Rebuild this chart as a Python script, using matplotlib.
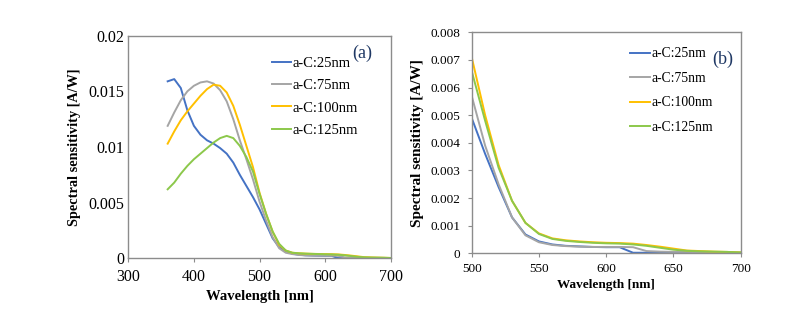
import matplotlib
matplotlib.use('Agg')
import matplotlib.pyplot as plt
import numpy as np

plt.rcParams['font.family'] = ['Liberation Serif', 'DejaVu Serif']

labels = ['a-C:25nm', 'a-C:75nm', 'a-C:100nm', 'a-C:125nm']
colors = ['#4472C4', '#A5A5A5', '#FFC000', '#8CC84B']

# panel (a): 360-700 nm
wl_a = list(range(360, 710, 10))
c25_a = [0.0159, 0.0161, 0.0153, 0.0133, 0.0119, 0.0111, 0.0106, 0.0103, 0.0099, 0.0094,
         0.0086, 0.0075, 0.0065, 0.0055, 0.0044, 0.0031, 0.0018, 0.0010, 0.0006, 0.00042,
         0.00032, 0.00027, 0.00025, 0.00023, 0.00022, 0.00022, 0.00002, 0.00002, 0.00002, 0.00002,
         0.00002, 0.00002, 0.00002, 0.00002, 0.00002]
c75_a = [0.0119, 0.0131, 0.0142, 0.0150, 0.0155, 0.0158, 0.0159, 0.0157, 0.0151, 0.0141,
         0.0125, 0.0106, 0.0089, 0.0071, 0.0051, 0.0034, 0.0019, 0.0009, 0.0005, 0.00038,
         0.0003, 0.00026, 0.00024, 0.00023, 0.00023, 0.00023, 0.00022, 0.00008, 0.00006, 0.00005,
         0.00005, 0.00004, 0.00004, 0.00003, 0.00002]
c100_a = [0.0103, 0.0114, 0.0124, 0.0132, 0.0139, 0.0146, 0.0152, 0.0156, 0.0155, 0.0149,
          0.0137, 0.0120, 0.0101, 0.0082, 0.0059, 0.0040, 0.0024, 0.0012, 0.0007, 0.0005,
          0.00045, 0.00042, 0.0004, 0.00039, 0.00038, 0.00037, 0.00035, 0.0003, 0.00024, 0.00017,
          0.0001, 0.00008, 0.00006, 0.00005, 0.00003]
c125_a = [0.0062, 0.0068, 0.0076, 0.0083, 0.0089, 0.0094, 0.0099, 0.0104, 0.0108, 0.0110,
          0.0108, 0.0101, 0.0091, 0.0078, 0.0058, 0.0040, 0.0024, 0.0013, 0.0007, 0.0005,
          0.00045, 0.00042, 0.0004, 0.00038, 0.00036, 0.00035, 0.00032, 0.00027, 0.0002, 0.00013,
          0.00009, 0.00007, 0.00006, 0.00005, 0.00003]

# panel (b): 500-700 nm
wl_b = list(range(500, 710, 10))
c25_b = [0.0049, 0.0036, 0.0024, 0.0013, 0.00068, 0.00043, 0.00032, 0.00027, 0.00025, 0.00023,
         0.00022, 0.00022, 0.00002, 0.00002, 0.00002, 0.00002, 0.00002, 0.00002, 0.00002, 0.00002, 0.00002]
c75_b = [0.0057, 0.0039, 0.0025, 0.0013, 0.00065, 0.0004, 0.0003, 0.00026, 0.00024, 0.00023,
         0.00023, 0.00023, 0.00022, 0.00008, 0.00006, 0.00005, 0.00005, 0.00004, 0.00004, 0.00003, 0.00002]
c100_b = [0.0071, 0.0050, 0.0032, 0.0019, 0.0011, 0.00072, 0.00054, 0.00047, 0.00043, 0.0004,
          0.00038, 0.00037, 0.00035, 0.0003, 0.00024, 0.00017, 0.0001, 0.00008, 0.00006, 0.00005, 0.00003]
c125_b = [0.0066, 0.0048, 0.0031, 0.0019, 0.0011, 0.0007, 0.00052, 0.00045, 0.00041, 0.00038,
          0.00036, 0.00035, 0.00032, 0.00027, 0.0002, 0.00013, 0.00009, 0.00007, 0.00006, 0.00005, 0.00003]

fig = plt.figure(figsize=(7.93, 3.15), dpi=100)
ax1 = fig.add_axes([0.1618, 0.18, 0.3309, 0.7067])
ax2 = fig.add_axes([0.5948, 0.1959, 0.3392, 0.7016])

def style(ax, tsize, xpad, ylen, ypad):
	for s in ax.spines.values():
		s.set_color('#8c8c8c')
		s.set_linewidth(1.0)
	ax.tick_params(axis='x', direction='out', length=3, color='#8c8c8c', labelsize=tsize, pad=xpad)
	ax.tick_params(axis='y', direction='out', length=ylen, color='#8c8c8c', labelsize=tsize, pad=ypad)

for ys, lab, c in zip([c25_a, c75_a, c100_a, c125_a], labels, colors):
	ax1.plot(wl_a, ys, color=c, lw=1.4, label=lab)
ax1.set_xlim(300, 700)
ax1.set_ylim(0, 0.02)
ax1.set_xticks([300, 400, 500, 600, 700])
ax1.set_yticks([0, 0.005, 0.01, 0.015, 0.02])
ax1.set_yticklabels(['0', '0.005', '0.01', '0.015', '0.02'])
style(ax1, 11.5, 5, 0, 3)
ax1.set_xlabel('Wavelength [nm]', fontsize=10.5, fontweight='bold', labelpad=3)
ax1.set_ylabel('Spectral sensitivity [A/W]', fontsize=10.3, fontweight='bold', labelpad=5)
ax1.legend(loc='upper left', bbox_to_anchor=(0.546, 0.905), frameon=False, fontsize=10.5,
           handlelength=1.35, handletextpad=0.1, labelspacing=0.62, borderpad=0, borderaxespad=0)
ax1.text(0.893, 0.921, '(a)', transform=ax1.transAxes, fontsize=13, color='#1f3864', ha='center', va='center')

for ys, lab, c in zip([c25_b, c75_b, c100_b, c125_b], labels, colors):
	ax2.plot(wl_b, ys, color=c, lw=1.4, label=lab)
ax2.set_xlim(500, 700)
ax2.set_ylim(0, 0.008)
ax2.set_xticks([500, 550, 600, 650, 700])
ax2.set_yticks(np.arange(0, 0.0081, 0.001))
ax2.set_yticklabels(['0'] + ['%.3f' % v for v in np.arange(0.001, 0.0081, 0.001)])
style(ax2, 9.5, 4, 3, 5)
ax2.set_xlabel('Wavelength [nm]', fontsize=9.5, fontweight='bold', labelpad=3)
ax2.set_ylabel('Spectral sensitivity [A/W]', fontsize=11, fontweight='bold', labelpad=5)
ax2.legend(loc='upper left', bbox_to_anchor=(0.588, 0.932), frameon=False, fontsize=9.8,
           handlelength=1.5, handletextpad=0.1, labelspacing=0.85, borderpad=0, borderaxespad=0)
ax2.text(0.934, 0.878, '(b)', transform=ax2.transAxes, fontsize=13, color='#1f3864', ha='center', va='center')

fig.savefig('out.png', dpi=100)
